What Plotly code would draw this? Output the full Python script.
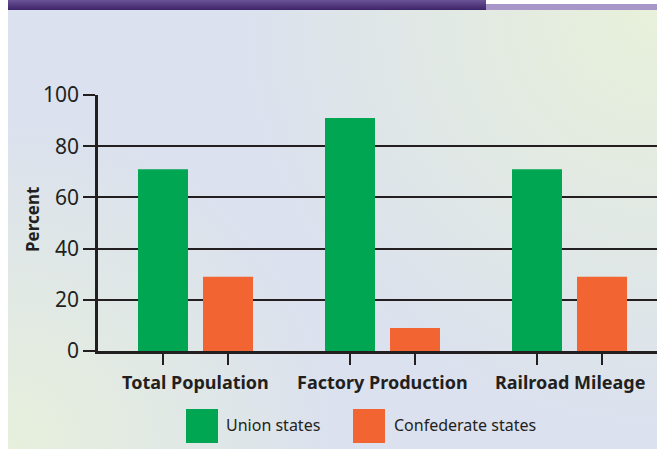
import base64
import plotly.graph_objects as go

categories = ["Total Population", "Factory Production", "Railroad Mileage"]
union = [71, 91, 71]
confederate = [29, 9, 29]
series_names = ["Union states", "Confederate states"]
y_ticks = [0, 20, 40, 60, 80, 100]

GREEN = "#00a651"
ORANGE = "#f26532"
INK = "#231f20"

W, H = 657, 449
L, R, T, B = 98, 0, 95, 98
pw, ph = W - L - R, H - T - B
unit = 187.0
half_gap = 65.0 / unit / 2
bar_w = 50.0 / unit

idx = list(range(len(categories)))
x_union = [i - half_gap for i in idx]
x_conf = [i + half_gap for i in idx]
x0 = -(195.5 - L) / unit
x1 = x0 + pw / unit

def px(xp):
    return (xp - L) / pw

def py(yp):
    return (H - B - yp) / ph

svg = f"""<svg xmlns='http://www.w3.org/2000/svg' width='{W}' height='{H}' viewBox='0 0 {W} {H}' preserveAspectRatio='none'>
<defs>
<radialGradient id='g1' cx='657' cy='10' r='420' gradientUnits='userSpaceOnUse'>
<stop offset='0' stop-color='#e8f1da' stop-opacity='1'/><stop offset='1' stop-color='#e8f1da' stop-opacity='0'/></radialGradient>
<radialGradient id='g2' cx='8' cy='449' r='330' gradientUnits='userSpaceOnUse'>
<stop offset='0' stop-color='#e7f0dc' stop-opacity='1'/><stop offset='1' stop-color='#e7f0dc' stop-opacity='0'/></radialGradient>
<linearGradient id='p' x1='0' y1='0' x2='0' y2='1'>
<stop offset='0' stop-color='#6b5497'/><stop offset='1' stop-color='#3e2367'/></linearGradient>
</defs>
<rect width='{W}' height='{H}' fill='#ffffff'/>
<rect x='8' y='10' width='649' height='439' fill='#dbe1ee'/>
<rect x='8' y='10' width='649' height='439' fill='url(#g1)'/>
<rect x='8' y='10' width='649' height='439' fill='url(#g2)'/>
<rect x='486' y='4' width='171' height='6' fill='#a896c8'/>
<rect x='8' y='0' width='478' height='10' fill='url(#p)'/>
</svg>"""
src = "data:image/svg+xml;base64," + base64.b64encode(svg.encode()).decode()

fig = go.Figure()
fig.add_trace(go.Bar(x=x_union, y=union, width=bar_w, marker=dict(color=GREEN, line=dict(width=0)),
                     name=series_names[0], showlegend=False))
fig.add_trace(go.Bar(x=x_conf, y=confederate, width=bar_w, marker=dict(color=ORANGE, line=dict(width=0)),
                     name=series_names[1], showlegend=False))

tickvals = sorted(x_union + x_conf)
fig.update_xaxes(range=[x0, x1], tickvals=tickvals, ticktext=[""] * len(tickvals),
                 ticks="outside", ticklen=11, tickwidth=1.5, tickcolor=INK,
                 showline=True, linecolor=INK, linewidth=2.5, showgrid=False, zeroline=False)
fig.update_yaxes(range=[0, 100], tickvals=y_ticks, ticks="outside", ticklen=12, tickwidth=1.5,
                 tickcolor=INK, showline=True, linecolor=INK, linewidth=2.5,
                 showgrid=True, gridcolor=INK, gridwidth=1.5, zeroline=False,
                 tickfont=dict(family="Noto Sans", size=21, color=INK))

annotations = []
for i, c in enumerate(categories):
    annotations.append(dict(x=i, y=0, xref="x", yref="paper", yanchor="middle", yshift=-31,
                            text=f"<b>{c}</b>", showarrow=False,
                            font=dict(family="Noto Sans", size=18, color=INK)))
annotations.append(dict(x=px(32), y=py(220), xref="paper", yref="paper", text="<b>Percent</b>",
                        textangle=-90, showarrow=False, xanchor="center", yanchor="middle",
                        font=dict(family="Noto Sans", size=17, color=INK)))

shapes = []
legend_pos = [(186, 224), (353, 392)]
for (sx, tx), name, col in zip(legend_pos, series_names, [GREEN, ORANGE]):
    shapes.append(dict(type="rect", xref="paper", yref="paper", x0=px(sx), x1=px(sx + 32),
                       y0=py(443), y1=py(409), fillcolor=col, line=dict(width=0)))
    annotations.append(dict(x=px(tx), y=py(425), xref="paper", yref="paper", xanchor="left",
                            yanchor="middle", text=name, showarrow=False,
                            font=dict(family="Noto Sans", size=16, color=INK)))

fig.update_layout(
    width=W, height=H, margin=dict(l=L, r=R, t=T, b=B, pad=0),
    paper_bgcolor="white", plot_bgcolor="rgba(0,0,0,0)",
    barmode="overlay", annotations=annotations, shapes=shapes,
    images=[dict(source=src, xref="paper", yref="paper", x=px(0), y=py(0),
                 sizex=W / pw, sizey=H / ph, sizing="stretch", layer="below",
                 xanchor="left", yanchor="top")],
)
fig.write_html("out.html")
